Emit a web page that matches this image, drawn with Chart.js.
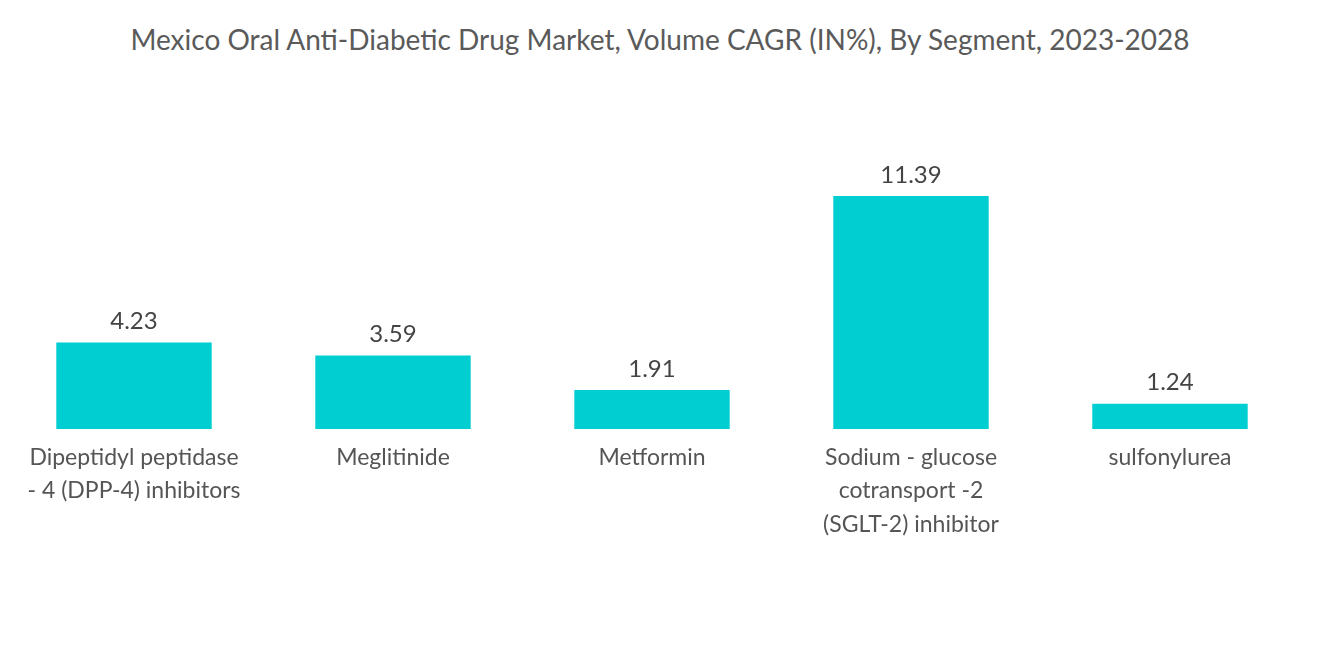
<!DOCTYPE html>
<html><head><meta charset="utf-8">
<script src="https://cdn.jsdelivr.net/npm/chart.js@4"></script>
<style>
body{margin:0;width:1320px;height:665px;background:#fff;overflow:hidden;font-family:Lato,sans-serif}
#t{position:absolute;top:22px;left:0;width:1320px;text-align:center;font-size:28px;color:#5a5a5a}
#w{position:absolute;left:0;top:100px;width:1304px;height:565px}
</style></head><body>
<div id="t">Mexico Oral Anti-Diabetic Drug Market, Volume CAGR (IN%), By Segment, 2023-2028</div>
<div id="w"><canvas id="c"></canvas></div>
<script>
const categories=[["Dipeptidyl peptidase","- 4 (DPP-4) inhibitors"],"Meglitinide","Metformin",["Sodium - glucose","cotransport -2","(SGLT-2) inhibitor"],"sulfonylurea"];
const values=[4.23,3.59,1.91,11.39,1.24];
const labelPlugin={id:'vl',afterDatasetsDraw(ch){const ctx=ch.ctx;const m=ch.getDatasetMeta(0);ctx.save();ctx.font='24px Lato';ctx.fillStyle='#444';ctx.textAlign='center';ctx.textBaseline='bottom';
m.data.forEach((b,i)=>ctx.fillText(values[i].toFixed(2),b.x,b.y-9));ctx.restore();}};
new Chart(document.getElementById('c'),{type:'bar',
data:{labels:categories,datasets:[{data:values,backgroundColor:'#00CED1',barPercentage:0.6,categoryPercentage:1}]},
options:{responsive:true,maintainAspectRatio:false,animation:false,
layout:{padding:{top:42.6,left:4.5,right:4.5}},
plugins:{legend:{display:false},tooltip:{enabled:false}},
scales:{y:{display:false,min:0,max:14},
x:{grid:{display:false},border:{display:false},afterFit:s=>{s.height=236},
ticks:{padding:4,color:'#555',font:{family:'Lato',size:23,lineHeight:1.45},maxRotation:0}}}},
plugins:[labelPlugin]});
</script></body></html>
